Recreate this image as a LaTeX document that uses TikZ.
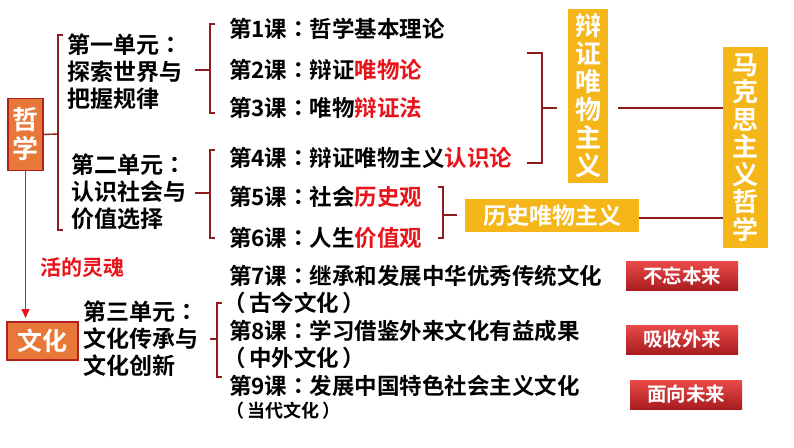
\documentclass[tikz,border=0pt]{standalone}
\usepackage{fontspec}
\setmainfont{Noto Sans CJK SC}[BoldFont={Noto Sans CJK SC Bold}]
\newfontfamily\punctfont{Noto Sans CJK TC}[BoldFont={Noto Sans CJK TC Bold}]
\usepackage{xcolor}
\usetikzlibrary{arrows.meta,positioning}

\definecolor{subjorange}{HTML}{E8773A}
\definecolor{boxedge}{HTML}{B0201E}
\definecolor{theoryyellow}{HTML}{F5B619}
\definecolor{bracered}{HTML}{8E1D1D}
\definecolor{hlred}{HTML}{E8141B}
\definecolor{mottotop}{HTML}{EA4A48}
\definecolor{mottobot}{HTML}{A81C20}

% centred full-width punctuation
\newcommand{\cnco}{{\punctfont ：}}
\newcommand{\cnlp}{\kern-.25em{\punctfont （}\kern.15em}
\newcommand{\cnrp}{\kern.15em{\punctfont ）}}

\begin{document}
\begin{tikzpicture}[
        x=1pt, y=-1pt,
        subject/.style={
            draw=boxedge,
            line width=1.6pt,
            fill=subjorange,
            text=white,
            align=center,
            inner sep=0pt,
            font=\bfseries\fontsize{26}{29}\selectfont
        },
        unitname/.style={anchor=west, align=left, inner sep=0pt,
            font=\bfseries\fontsize{23}{27}\selectfont},
        lesson/.style={anchor=west, inner sep=0pt,
            font=\bfseries\fontsize{22.5}{27}\selectfont},
        theory/.style={
            fill=theoryyellow,
            text=white,
            align=center,
            inner sep=0pt,
            font=\bfseries\fontsize{26}{28}\selectfont
        },
        motto/.style={
            top color=mottotop,
            bottom color=mottobot,
            text=white,
            minimum width=112pt,
            minimum height=29pt,
            inner sep=0pt,
            font=\bfseries\fontsize{19.5}{19.5}\selectfont
        },
        brace/.style={draw=bracered, line width=1.4pt},
        arrow/.style={-{Triangle[length=9pt, width=8pt]}, draw=hlred, line width=1.6pt}
    ]
        \fill[white] (0,0) rectangle (794,447);
        \useasboundingbox (0,0) rectangle (794,447);

        % subjects
        \node[subject, minimum width=35pt, minimum height=72pt] (zhexue) at (25.5,134.5) {哲\\学};
        \node[subject, minimum width=71pt, minimum height=38pt, font=\bfseries\fontsize{25}{25}\selectfont] (wenhua) at (42.5,341) {文化};

        % units
        \node[unitname] (unitA) at (67,72) {第一单元\cnco\\探索世界与\\把握规律};
        \node[unitname] (unitB) at (71,192) {第二单元\cnco\\认识社会与\\价值选择};
        \node[unitname] (unitC) at (83,339) {第三单元\cnco\\文化传承与\\文化创新};

        % lessons
        \node[lesson] (l1) at (229,29) {第1课\cnco 哲学基本理论};
        \node[lesson] (l2) at (229,70) {第2课\cnco 辩证\textcolor{hlred}{唯物论}};
        \node[lesson] (l3) at (229,108) {第3课\cnco 唯物\textcolor{hlred}{辩证法}};
        \node[lesson] (l4) at (229,158) {第4课\cnco 辩证唯物主义\textcolor{hlred}{认识论}};
        \node[lesson] (l5) at (229,197) {第5课\cnco 社会\textcolor{hlred}{历史观}};
        \node[lesson] (l6) at (229,238) {第6课\cnco 人生\textcolor{hlred}{价值观}};
        \node[lesson] (l7) at (229,276) {第7课\cnco 继承和发展中华优秀传统文化};
        \node[lesson] (l7b) at (229,303) {\cnlp 古今文化\cnrp};
        \node[lesson] (l8) at (229,331) {第8课\cnco 学习借鉴外来文化有益成果};
        \node[lesson] (l8b) at (229,358) {\cnlp 中外文化\cnrp};
        \node[lesson] (l9) at (229,386) {第9课\cnco 发展中国特色社会主义文化};
        \node[lesson, font=\bfseries\fontsize{18}{20}\selectfont] (l9b) at (231,411) {\cnlp 当代文化\cnrp};

        % theories
        \node[theory, minimum width=40pt, minimum height=174pt] (bzwz) at (588,96) {辩\\证\\唯\\物\\主\\义};
        \node[theory, minimum width=174pt, minimum height=33pt, font=\bfseries\fontsize{23}{23}\selectfont] (lswz) at (552,215.5) {历史唯物主义};
        \node[theory, minimum width=45pt, minimum height=201pt, font=\bfseries\fontsize{26}{27.5}\selectfont] (mksz) at (745.5,147.5) {马\\克\\思\\主\\义\\哲\\学};

        % mottos
        \node[motto] (m1) at (682,276) {不忘本来};
        \node[motto] (m2) at (682,339.5) {吸收外来};
        \node[motto] (m3) at (686,394.5) {面向未来};

        % brackets
        \coordinate (jA) at (58,134);
        \draw[brace] (zhexue.east) -- (jA);
        \draw[brace] (63,35) -- (58,35) -- (58,230) -- (63,230);

        \coordinate (jB) at (210,70);
        \draw[brace] (195,70) -- (jB);
        \draw[brace] (215,24) -- (210,24) -- (210,113) -- (215,113);

        \coordinate (jC) at (210,193);
        \draw[brace] (195,193) -- (jC);
        \draw[brace] (215,150) -- (210,150) -- (210,238) -- (215,238);

        \coordinate (jD) at (217,339);
        \draw[brace] (210,339) -- (jD);
        \draw[brace] (222,303) -- (217,303) -- (217,377) -- (222,377);

        \coordinate (jE) at (542,108);
        \draw[brace] (527,53) -- (542,53) -- (542,163) -- (527,163);
        \draw[brace] (jE) -- (557,108);

        \coordinate (jF) at (443,215);
        \draw[brace] (438,187) -- (443,187) -- (443,238) -- (438,238);
        \draw[brace] (jF) -- (457,215);

        \draw[brace] (618,108) -- (mksz.west |- 0,108);
        \draw[brace] (lswz.east |- 0,218) -- (mksz.west |- 0,218);

        % soul
        \draw[arrow] (zhexue.south) -- (25.5,318);
        \node[text=hlred, font=\bfseries\fontsize{21}{21}\selectfont, anchor=west, inner sep=0pt] (soul) at (40,268) {活的灵魂};
    \end{tikzpicture}
\end{document}
